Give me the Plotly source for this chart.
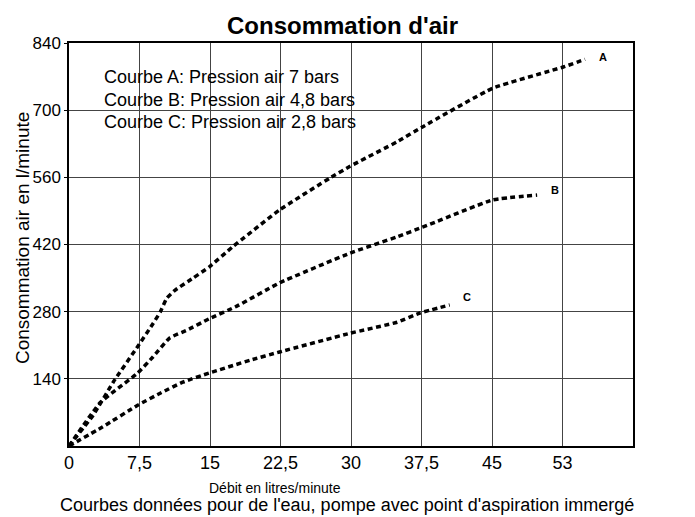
import plotly.graph_objects as go

# Data
A_x = [0, 2.6, 4.7, 7.4, 8.7, 9.7, 10.4, 11.3, 13.2, 14.9, 17.4, 22.4, 27.8, 29.9, 34.9, 37.6, 45.1, 52.6, 54.9]
A_y = [0, 65, 133, 210, 248, 279, 308, 325, 350, 373, 415, 492, 559, 583, 634, 665, 746, 790, 806]
B_x = [0, 3.3, 7.3, 8.9, 10.7, 12.6, 14.9, 17.9, 22.4, 29.9, 34.9, 37.6, 45.1, 49.8]
B_y = [0, 90, 152, 185, 225, 242, 265, 292, 340, 402, 436, 456, 513, 523]
C_x = [0, 3.6, 7.3, 9.7, 12.1, 14.9, 19.3, 22.4, 29.9, 34.9, 37.3, 40.5]
C_y = [0, 40, 85, 110, 133, 152, 179, 196, 235, 258, 277, 294]

x_tickvals = [0, 7.5, 15, 22.5, 30, 37.5, 45, 52.5]
x_ticktext = ["0", "7,5", "15", "22,5", "30", "37,5", "45", "53"]
y_tickvals = [140, 280, 420, 560, 700, 840]
y_ticktext = ["140", "280", "420", "560", "700", "840"]

legend_lines = [
    "Courbe A: Pression air 7 bars",
    "Courbe B: Pression air 4,8 bars",
    "Courbe C: Pression air 2,8 bars",
]
curve_names = ["A", "B", "C"]

FONT = "Arial, Liberation Sans, sans-serif"

fig = go.Figure()
series = [(A_x, A_y), (B_x, B_y), (C_x, C_y)]
for (xs, ys), name in zip(series, curve_names):
    fig.add_trace(go.Scatter(
        x=xs, y=ys, mode="lines", name=name,
        line=dict(color="black", width=3.5, dash="5px,3.5px", shape="spline", smoothing=0.4),
        showlegend=False, hoverinfo="skip",
    ))

label_shifts = {"A": (18, 2), "B": (18, 5), "C": (17, 8)}
for (xs, ys), name in zip(series, curve_names):
    dx, dy = label_shifts[name]
    fig.add_annotation(
        x=xs[-1], y=ys[-1], xref="x", yref="y", text="<b>%s</b>" % name,
        showarrow=False, xshift=dx, yshift=dy,
        font=dict(family=FONT, size=11, color="black"),
    )

legend_y = [0.9156, 0.8586, 0.8040]
for txt, yy in zip(legend_lines, legend_y):
    fig.add_annotation(
        x=0.0585, y=yy, xref="paper", yref="paper", text=txt,
        showarrow=False, xanchor="left", yanchor="middle",
        font=dict(family=FONT, size=18, color="black"),
    )

fig.add_annotation(
    x=0.365, y=-0.104, xref="paper", yref="paper", text="Débit en litres/minute",
    showarrow=False, xanchor="center", yanchor="middle",
    font=dict(family=FONT, size=14, color="black"),
)
fig.add_annotation(
    x=0.493, y=-0.176, xref="paper", yref="paper",
    text="Courbes données pour de l'eau, pompe avec point d'aspiration immergé",
    showarrow=False, xanchor="center", yanchor="bottom",
    font=dict(family=FONT, size=18, color="black"),
)
fig.add_annotation(
    x=-0.0833, y=0.516, xref="paper", yref="paper", text="Consommation air en l/minute",
    showarrow=False, xanchor="center", yanchor="middle", textangle=-90,
    font=dict(family=FONT, size=19, color="black"),
)

fig.update_layout(
    width=695, height=517,
    margin=dict(l=69, r=62, t=43, b=71),
    paper_bgcolor="white", plot_bgcolor="white",
    title=dict(text="<b>Consommation d'air</b>", x=0.485, xref="paper", xanchor="center",
               y=1 - 26 / 517, yref="container", yanchor="middle",
               font=dict(family=FONT, size=24, color="black")),
    font=dict(family=FONT, color="black"),
)
fig.update_xaxes(
    range=[0, 60], tickvals=x_tickvals, ticktext=x_ticktext,
    showgrid=True, gridcolor="#444", gridwidth=1,
    showline=True, linecolor="black", linewidth=1.5, mirror=True,
    zeroline=False, ticks="", tickfont=dict(family=FONT, size=18, color="black"),
)
fig.update_yaxes(
    range=[0, 840], tickvals=y_tickvals, ticktext=y_ticktext,
    showgrid=True, gridcolor="#444", gridwidth=1,
    showline=True, linecolor="black", linewidth=1.5, mirror=True,
    zeroline=False, ticks="outside", ticklen=3, tickcolor="black",
    tickfont=dict(family=FONT, size=17, color="black"),
)

fig.write_html("out.html", config={"displayModeBar": False},
               post_script="document.body.style.margin='0px';")
